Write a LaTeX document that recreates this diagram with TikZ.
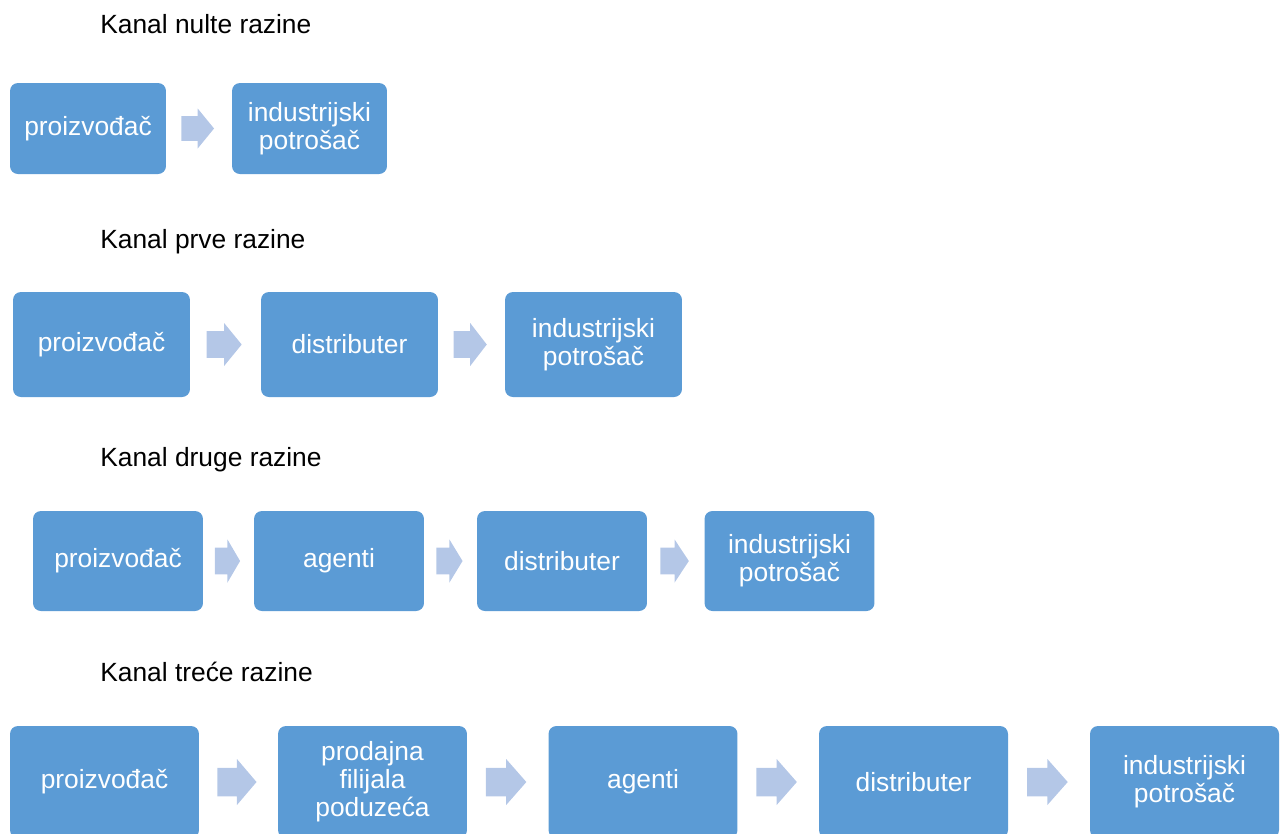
\documentclass[tikz,border=0pt]{standalone}
\usepackage{fontspec}
\setmainfont{Liberation Sans}
\usepackage[HTML]{xcolor}
\usepackage{tikz}
\usetikzlibrary{positioning, calc}

\definecolor{boxblue}{HTML}{5B9BD5}
\definecolor{arrowblue}{HTML}{B4C7E7}

% block arrow between two boxes, #3 = half height of the head
\newcommand{\chanarrow}[3]{%
    \path (#1.east) -- (#2.west)
        coordinate[pos=0.23] (s) coordinate[pos=0.48] (h) coordinate[pos=0.73] (t);
    \fill[arrowblue] ($(s)+(0,0.62*#3)$) -- ($(h)+(0,0.62*#3)$) -- ($(h)+(0,#3)$)
        -- (t) -- ($(h)+(0,-#3)$) -- ($(h)+(0,-0.62*#3)$) -- ($(s)+(0,-0.62*#3)$) -- cycle;
}

\begin{document}
\begin{tikzpicture}[
    x=0.02cm, y=-0.02cm, % pixel grid of the reference
    chanbox/.style={fill=boxblue, rounded corners=4.5pt, text=white, align=center,
        font=\fontsize{15}{16}\selectfont, inner sep=2pt},
    title/.style={anchor=base west, inner sep=0pt, font=\fontsize{15}{18}\selectfont}
]
    \useasboundingbox (0,0) rectangle (1283,833);
    \clip (0,0) rectangle (1283,833);

    % 1. Kanal nulte razine
    \node[title] (t0) at (100,33) {Kanal nulte razine};
    \node[chanbox, minimum width=3.12cm, minimum height=1.82cm] (a0) at (88,128.5) {proizvođač};
    \node[chanbox, minimum width=3.10cm, minimum height=1.82cm] (a1) at (309.5,128.5) {industrijski\\potrošač};
    \chanarrow{a0}{a1}{20}

    % 2. Kanal prve razine
    \node[title] (t1) at (100,248) {Kanal prve razine};
    \node[chanbox, minimum width=3.54cm, minimum height=2.10cm] (b0) at (101.5,344.5) {proizvođač};
    \node[chanbox, minimum width=3.54cm, minimum height=2.10cm] (b1) at (349.5,344.5) {distributer};
    \node[chanbox, minimum width=3.54cm, minimum height=2.10cm] (b2) at (593.5,344.5) {industrijski\\potrošač};
    \chanarrow{b0}{b1}{21.5}
    \chanarrow{b1}{b2}{21.5}

    % 3. Kanal druge razine
    \node[title] (t2) at (100,466) {Kanal druge razine};
    \node[chanbox, minimum width=3.40cm, minimum height=2.00cm] (c0) at (118,561) {proizvođač};
    \node[chanbox, minimum width=3.40cm, minimum height=2.00cm] (c1) at (339,561) {agenti};
    \node[chanbox, minimum width=3.40cm, minimum height=2.00cm] (c2) at (562,561) {distributer};
    \node[chanbox, minimum width=3.40cm, minimum height=2.00cm] (c3) at (789.5,561) {industrijski\\potrošač};
    \chanarrow{c0}{c1}{21.5}
    \chanarrow{c1}{c2}{21.5}
    \chanarrow{c2}{c3}{21.5}

    % 4. Kanal trece razine
    \node[title] (t3) at (100,681) {Kanal treće razine};
    \node[chanbox, minimum width=3.78cm, minimum height=2.24cm] (d0) at (104.5,782) {proizvođač};
    \node[chanbox, minimum width=3.78cm, minimum height=2.24cm] (d1) at (372.5,782) {prodajna\\filijala\\poduzeća};
    \node[chanbox, minimum width=3.78cm, minimum height=2.24cm] (d2) at (643,782) {agenti};
    \node[chanbox, minimum width=3.78cm, minimum height=2.24cm] (d3) at (913.5,782) {distributer};
    \node[chanbox, minimum width=3.78cm, minimum height=2.24cm] (d4) at (1184.5,782) {industrijski\\potrošač};
    \chanarrow{d0}{d1}{23}
    \chanarrow{d1}{d2}{23}
    \chanarrow{d2}{d3}{23}
    \chanarrow{d3}{d4}{23}
\end{tikzpicture}
\end{document}
